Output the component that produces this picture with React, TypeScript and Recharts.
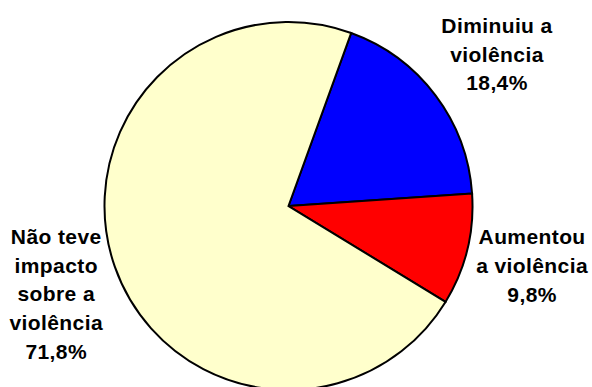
import React from "react";
import { PieChart, Pie, Cell } from "recharts";

// Survey answers: effect on violence (percent of respondents)
const categories = ["Diminuiu a violência", "Aumentou a violência", "Não teve impacto sobre a violência"];
const shares = [18.4, 9.8, 71.8];
const labelLines = [
  ["Diminuiu a", "violência"],
  ["Aumentou", "a violência"],
  ["Não teve", "impacto", "sobre a", "violência"],
];
const sliceColors = ["#0000FF", "#FF0000", "#FFFFCC"];

const data = categories.map((name, i) => ({ name, value: shares[i] }));

// label placement: distance from centre along the slice's mid angle, plus a small nudge
const LABEL_RADIUS = 254;
const labelNudge: [number, number][] = [
  [5.6, 0.9],
  [-3.1, -1],
  [7.4, 3.7],
];
const LINE_HEIGHT = 28.7;
const RAD = Math.PI / 180;

const fmt = (v: number) => v.toFixed(1).replace(".", ",") + "%";

const renderLabel = (props: any) => {
  const { cx, cy, midAngle, index, value } = props;
  const x = cx + LABEL_RADIUS * Math.cos(-midAngle * RAD) + labelNudge[index][0];
  const y = cy + LABEL_RADIUS * Math.sin(-midAngle * RAD) + labelNudge[index][1];
  const lines = [...labelLines[index], fmt(value)];
  const firstBaseline = y - ((lines.length - 1) / 2) * LINE_HEIGHT + 7.5;
  return (
    <text
      x={x}
      y={firstBaseline}
      textAnchor="middle"
      fill="#000000"
      fontFamily="'Liberation Sans', Arial, sans-serif"
      fontWeight="bold"
      fontSize={21}
      letterSpacing={0.4}
    >
      {lines.map((t, i) => (
        <tspan key={i} x={x} dy={i === 0 ? 0 : LINE_HEIGHT}>
          {t}
        </tspan>
      ))}
    </text>
  );
};

const START = 70.1;

export default function App() {
  return (
    <div style={{ position: "absolute", left: 0, top: 0, width: 592, height: 387, background: "#ffffff" }}>
      <PieChart width={592} height={387} margin={{ top: 0, right: 0, bottom: 0, left: 0 }}>
        <Pie
          data={data}
          dataKey="value"
          nameKey="name"
          cx={288.5}
          cy={206}
          outerRadius={184}
          startAngle={START}
          endAngle={START - 360}
          stroke="#000000"
          strokeWidth={2}
          label={renderLabel}
          labelLine={false}
          isAnimationActive={false}
        >
          {data.map((d, i) => (
            <Cell key={d.name} fill={sliceColors[i]} />
          ))}
        </Pie>
      </PieChart>
    </div>
  );
}
